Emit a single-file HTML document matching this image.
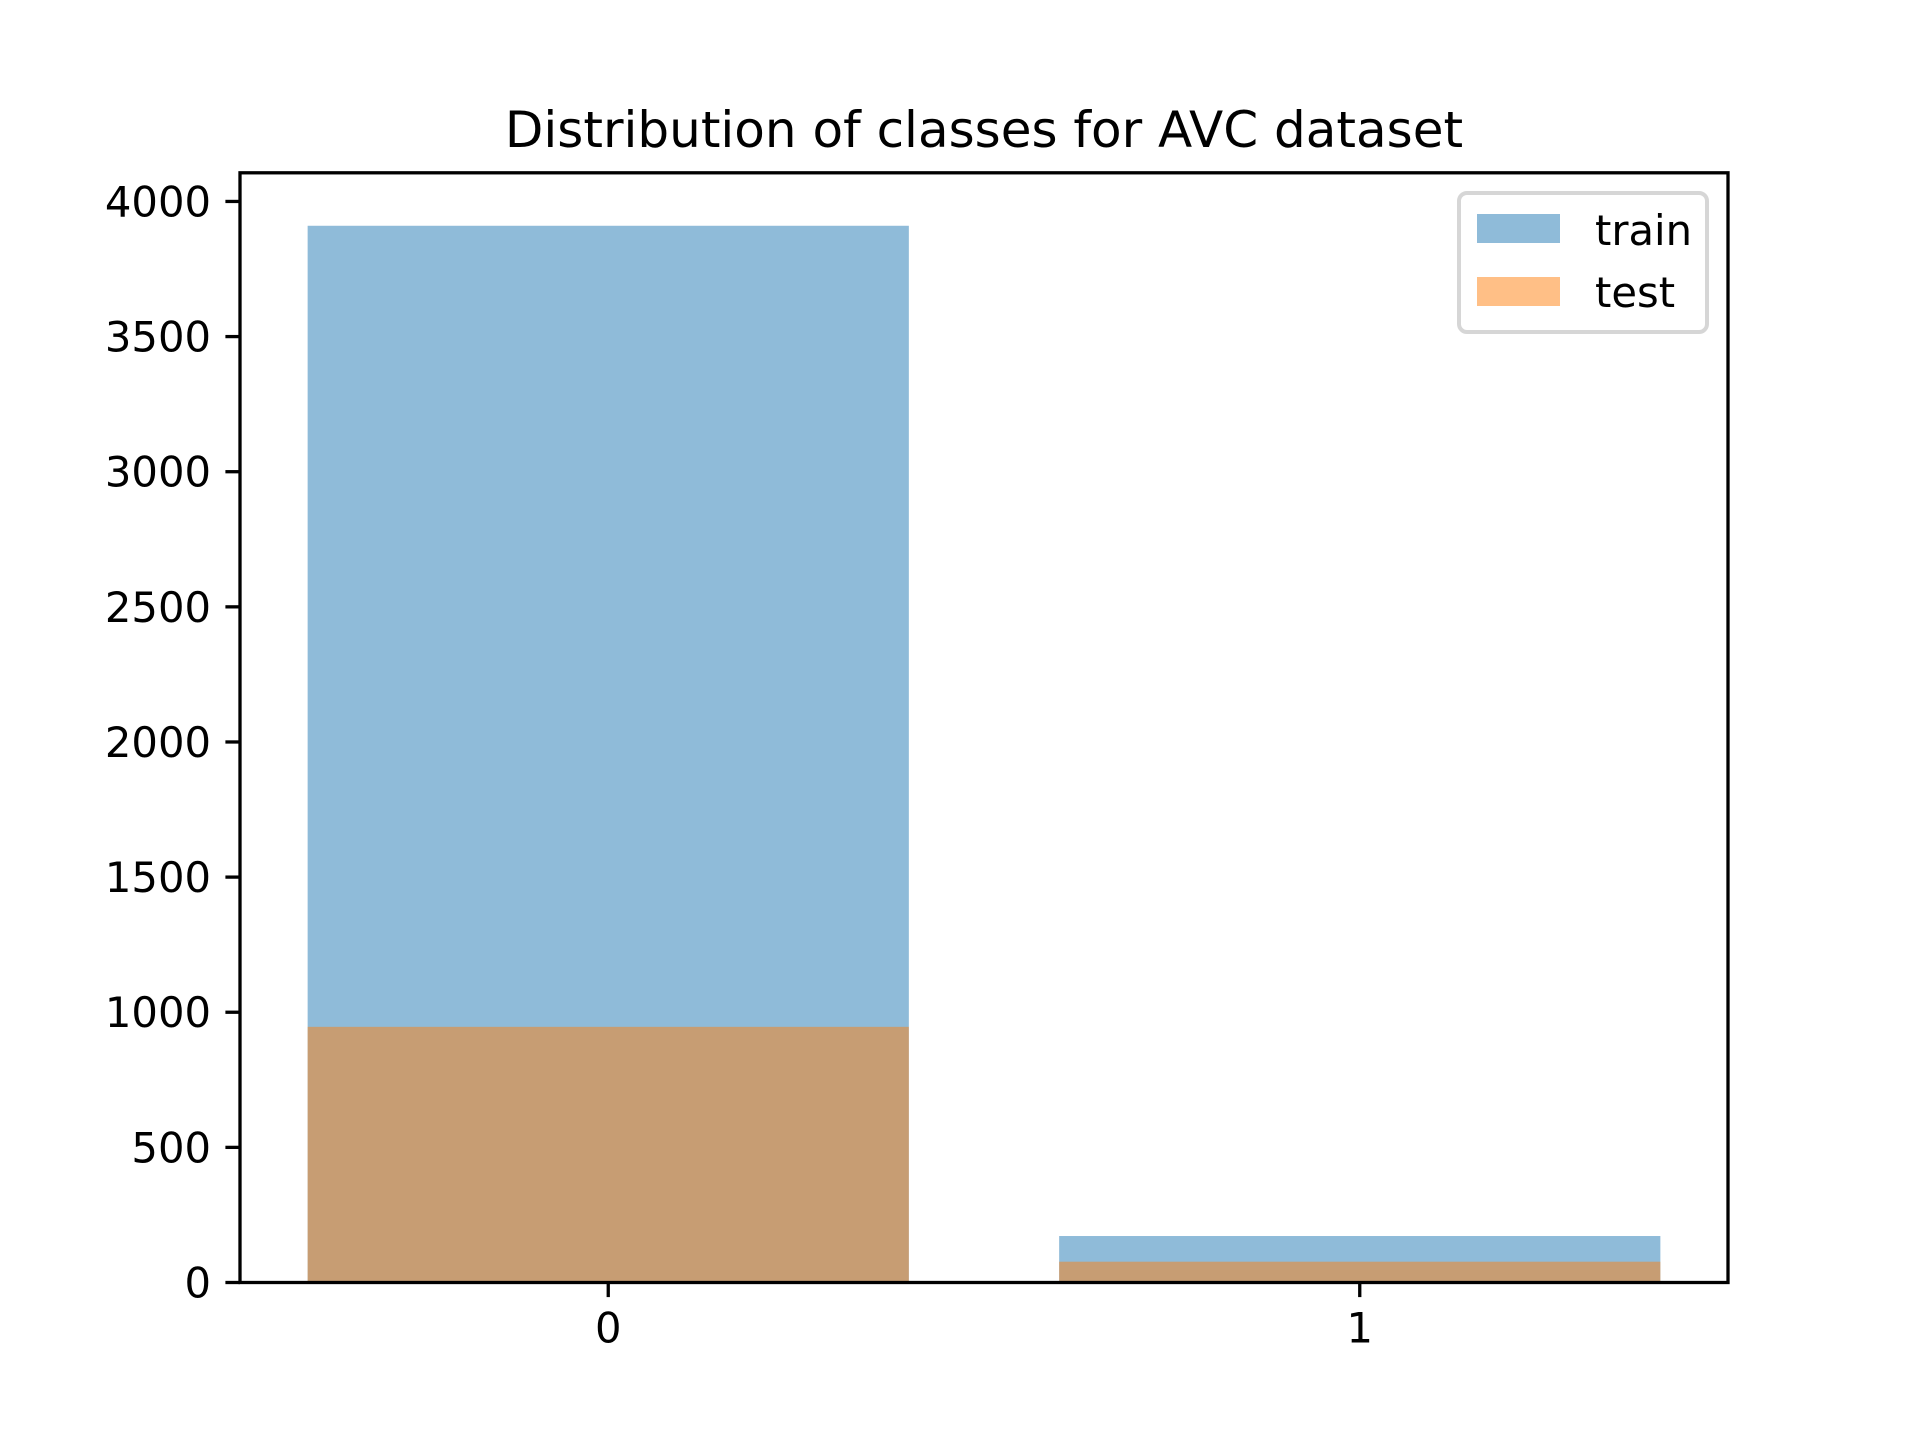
<!DOCTYPE html>
<html><head><meta charset="utf-8"><style>
html,body{margin:0;padding:0;background:#fff}
svg{display:block}
text{font-family:"DejaVu Sans","Liberation Sans",sans-serif;fill:#000}
</style></head><body>
<svg id="chart" width="1920" height="1440" viewBox="0 0 1920 1440">
<rect width="1920" height="1440" fill="#fff"/>
<text x="984" y="147" font-size="50" text-anchor="middle">Distribution of classes for AVC dataset</text>
<g id="bars"></g>
<g id="axes"></g>
<g>
<rect x="1459" y="193" width="248" height="139" rx="8" fill="#fff" fill-opacity="0.8" stroke="#d6d6d6" stroke-width="4"/>
<rect x="1477" y="214" width="83" height="29" fill="#1f77b4" fill-opacity="0.5"/>
<text x="1595" y="245" font-size="41.7">train</text>
<rect x="1477" y="277" width="83" height="29" fill="#ff7f0e" fill-opacity="0.5"/>
<text x="1595" y="307" font-size="41.7">test</text>
</g>
</svg>
<script>
const categories = ["0", "1"];
const trainValues = [3910, 172];
const testValues = [946, 77];
const yTicks = [0, 500, 1000, 1500, 2000, 2500, 3000, 3500, 4000];

const L = 240, R = 1728, T = 172.8, B = 1282.5;
const xMin = -0.49, xMax = 1.49, yMax = 4106;
const xs = v => L + (v - xMin) / (xMax - xMin) * (R - L);
const ys = v => B - v / yMax * (B - T);
const NS = "http://www.w3.org/2000/svg";
const bars = document.getElementById("bars");
const axes = document.getElementById("axes");
function mk(tag, attrs, parent) {
  const e = document.createElementNS(NS, tag);
  for (const k in attrs) e.setAttribute(k, attrs[k]);
  parent.appendChild(e);
  return e;
}
const bw = 0.8;
[[trainValues, "#1f77b4", "train"], [testValues, "#ff7f0e", "test"]].forEach(([vals, col, nm]) => {
  vals.forEach((v, i) => {
    const r = mk("rect", {x: xs(i - bw / 2), y: ys(v), width: xs(i + bw / 2) - xs(i - bw / 2), height: ys(0) - ys(v), fill: col, "fill-opacity": 0.5}, bars);
    
    
  });
});
const frame = mk("rect", {x: L, y: T, width: R - L, height: B - T, fill: "none", stroke: "#000", "stroke-width": 3.3}, axes);


yTicks.forEach(t => {
  const y = ys(t);
  const tk = mk("line", {x1: L - 14.6, x2: L, y1: y, y2: y, stroke: "#000", "stroke-width": 3.3}, axes);
  
  
  const lb = mk("text", {x: L - 29, y: y + 15, "font-size": 41.7, "text-anchor": "end"}, axes);
  lb.textContent = t;
  
  
});
categories.forEach((c, i) => {
  const x = xs(i);
  const tk = mk("line", {x1: x, x2: x, y1: B, y2: B + 14.6, stroke: "#000", "stroke-width": 3.3}, axes);
  
  
  const lb = mk("text", {x: x, y: B + 29 + 31, "font-size": 41.7, "text-anchor": "middle"}, axes);
  lb.textContent = c;
  
  
});
</script>
</body></html>
